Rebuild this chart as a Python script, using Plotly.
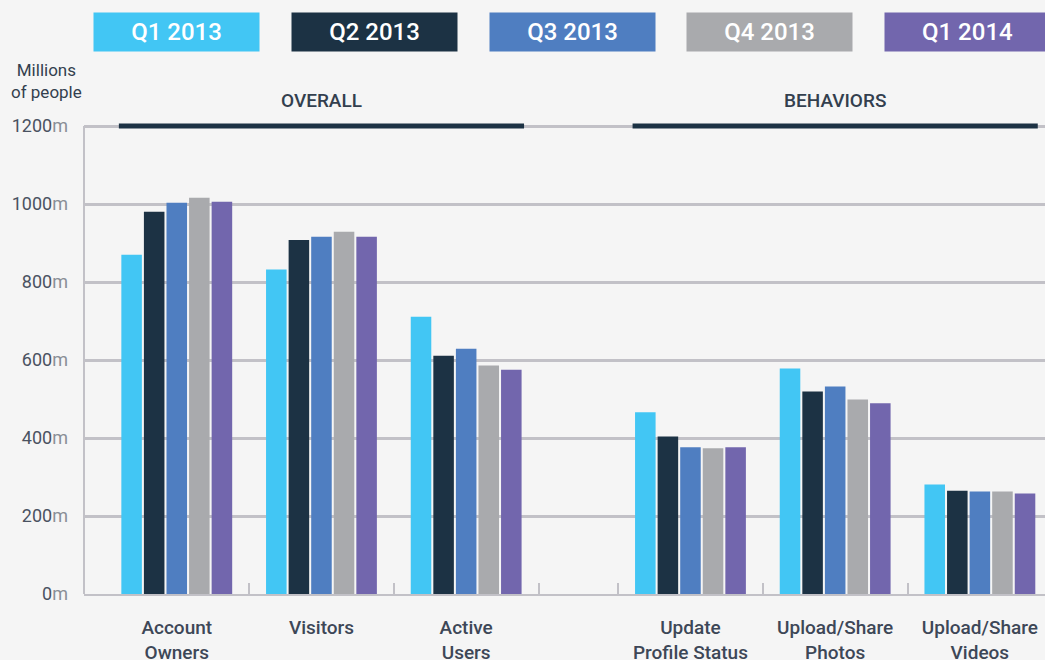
import plotly.graph_objects as go

# ---------------- data ----------------
categories = ["Account<br>Owners", "Visitors", "Active<br>Users",
              "Update<br>Profile Status", "Upload/Share<br>Photos", "Upload/Share<br>Videos"]
series_names = ["Q1 2013", "Q2 2013", "Q3 2013", "Q4 2013", "Q1 2014"]
q1_2013 = [870, 832, 711, 466, 578, 281]
q2_2013 = [980, 908, 611, 404, 519, 265]
q3_2013 = [1003, 916, 629, 376, 532, 263]
q4_2013 = [1016, 929, 586, 374, 499, 263]
q1_2014 = [1006, 916, 575, 376, 489, 258]
group_names = ["OVERALL", "BEHAVIORS"]
group_members = [[0, 1, 2], [3, 4, 5]]
y_tick_values = [0, 200, 400, 600, 800, 1000, 1200]
y_axis_title = "Millions<br>of people"

series_values = [q1_2013, q2_2013, q3_2013, q4_2013, q1_2014]
colors = ["#42c6f4", "#1c3244", "#4f7ec1", "#a9aaad", "#7266ad"]

# ---------------- layout constants ----------------
W, H = 1045, 660
ML, MR, MT, MB = 84, 0, 120, 66
PW = W - ML - MR
PH = H - MT - MB
Y_TOP = 1200 * PH / 468.0   # 1200m sits at y=126px
GAP = 0.55                   # extra space between the two groups
BG = "#f5f5f5"
GRID = "#c2c1c7"
TEXT = "#333f4e"
FONT = "Roboto"

xpos = [i + (GAP if i >= 3 else 0) for i in range(len(categories))]
x_range = [-0.641, xpos[-1] + 0.45]
boundaries = [p - 0.5 for p in xpos[1:]] + [xpos[2] + 0.5]
boundaries = sorted(set(boundaries))


def px_x(px):
    return (px - ML) / PW


def px_y(py):
    return (H - MB - py) / PH


fig = go.Figure()
for name, vals, col in zip(series_names, series_values, colors):
    fig.add_trace(go.Bar(x=xpos, y=vals, name=name, marker_color=col,
                         marker_line_width=0, showlegend=False))

# invisible trace for the label axis
fig.add_trace(go.Scatter(x=xpos, y=[None] * len(xpos), xaxis="x2",
                         showlegend=False, hoverinfo="skip"))

shapes = []
annotations = []

# group header bars + labels
for gname, members in zip(group_names, group_members):
    x0 = xpos[members[0]] - 0.4
    x1 = xpos[members[-1]] + 0.4
    shapes.append(dict(type="line", xref="x", yref="y", x0=x0, x1=x1, y0=1200, y1=1200,
                       line=dict(color="#1c3244", width=5), layer="above"))
    annotations.append(dict(text=gname, xref="x", yref="paper",
                            x=sum(xpos[m] for m in members) / len(members),
                            y=px_y(101), showarrow=False, yanchor="middle",
                            font=dict(family=FONT, size=19, color=TEXT, weight=500)))

# y axis line (0 to 1200 only)
shapes.append(dict(type="line", xref="paper", yref="paper", x0=0, x1=0,
                   y0=0, y1=1200 / Y_TOP, line=dict(color=GRID, width=2), layer="below"))

# legend boxes
for i, (name, col) in enumerate(zip(series_names, colors)):
    cx = 176.5 + i * 197.75
    annotations.append(dict(text=name, xref="paper", yref="paper",
                            x=px_x(cx), y=px_y(32), showarrow=False,
                            xanchor="center", yanchor="middle",
                            width=165, height=38, bgcolor=col, borderpad=0,
                            font=dict(family=FONT, size=24, color="white", weight=500)))

# y axis title
annotations.append(dict(text=y_axis_title, xref="paper", yref="paper",
                        x=px_x(46), y=px_y(81), showarrow=False,
                        xanchor="center", yanchor="middle",
                        font=dict(family=FONT, size=17, color=TEXT)))

y_ticktext = [f"{v}<span style='color:#8a8e96'>m</span>" for v in y_tick_values]

fig.update_layout(
    width=W, height=H,
    margin=dict(l=ML, r=MR, t=MT, b=MB, pad=0, autoexpand=False),
    paper_bgcolor=BG, plot_bgcolor=BG,
    barmode="group", bargap=0.22, bargroupgap=0.09,
    showlegend=False,
    shapes=shapes, annotations=annotations,
    xaxis=dict(range=x_range, tickmode="array", tickvals=boundaries,
               ticks="inside", ticklen=11, tickwidth=2, tickcolor=GRID,
               showticklabels=False, showgrid=False, zeroline=False,
               showline=True, linecolor=GRID, linewidth=2, automargin=False),
    xaxis2=dict(range=x_range, overlaying="x", side="bottom", anchor="y",
                tickmode="array", tickvals=xpos, ticktext=categories,
                ticks="", showgrid=False, zeroline=False, showline=False,
                ticklabelstandoff=20, automargin=False,
                tickfont=dict(family=FONT, size=19, color="#3d4757", weight=500)),
    yaxis=dict(range=[0, Y_TOP], tickmode="array", tickvals=y_tick_values,
               ticktext=y_ticktext, showgrid=True, gridcolor=GRID, gridwidth=2.5,
               zeroline=False, showline=False, ticks="", ticklabelstandoff=15,
               automargin=False,
               tickfont=dict(family=FONT, size=18, color="#4a5261")),
    font=dict(family=FONT, color=TEXT),
    hovermode=False,
)

fig.write_html("out.html",
               config={"displayModeBar": False},
               post_script="document.body.style.margin='0';"
                           "document.body.style.background='#f5f5f5';")
